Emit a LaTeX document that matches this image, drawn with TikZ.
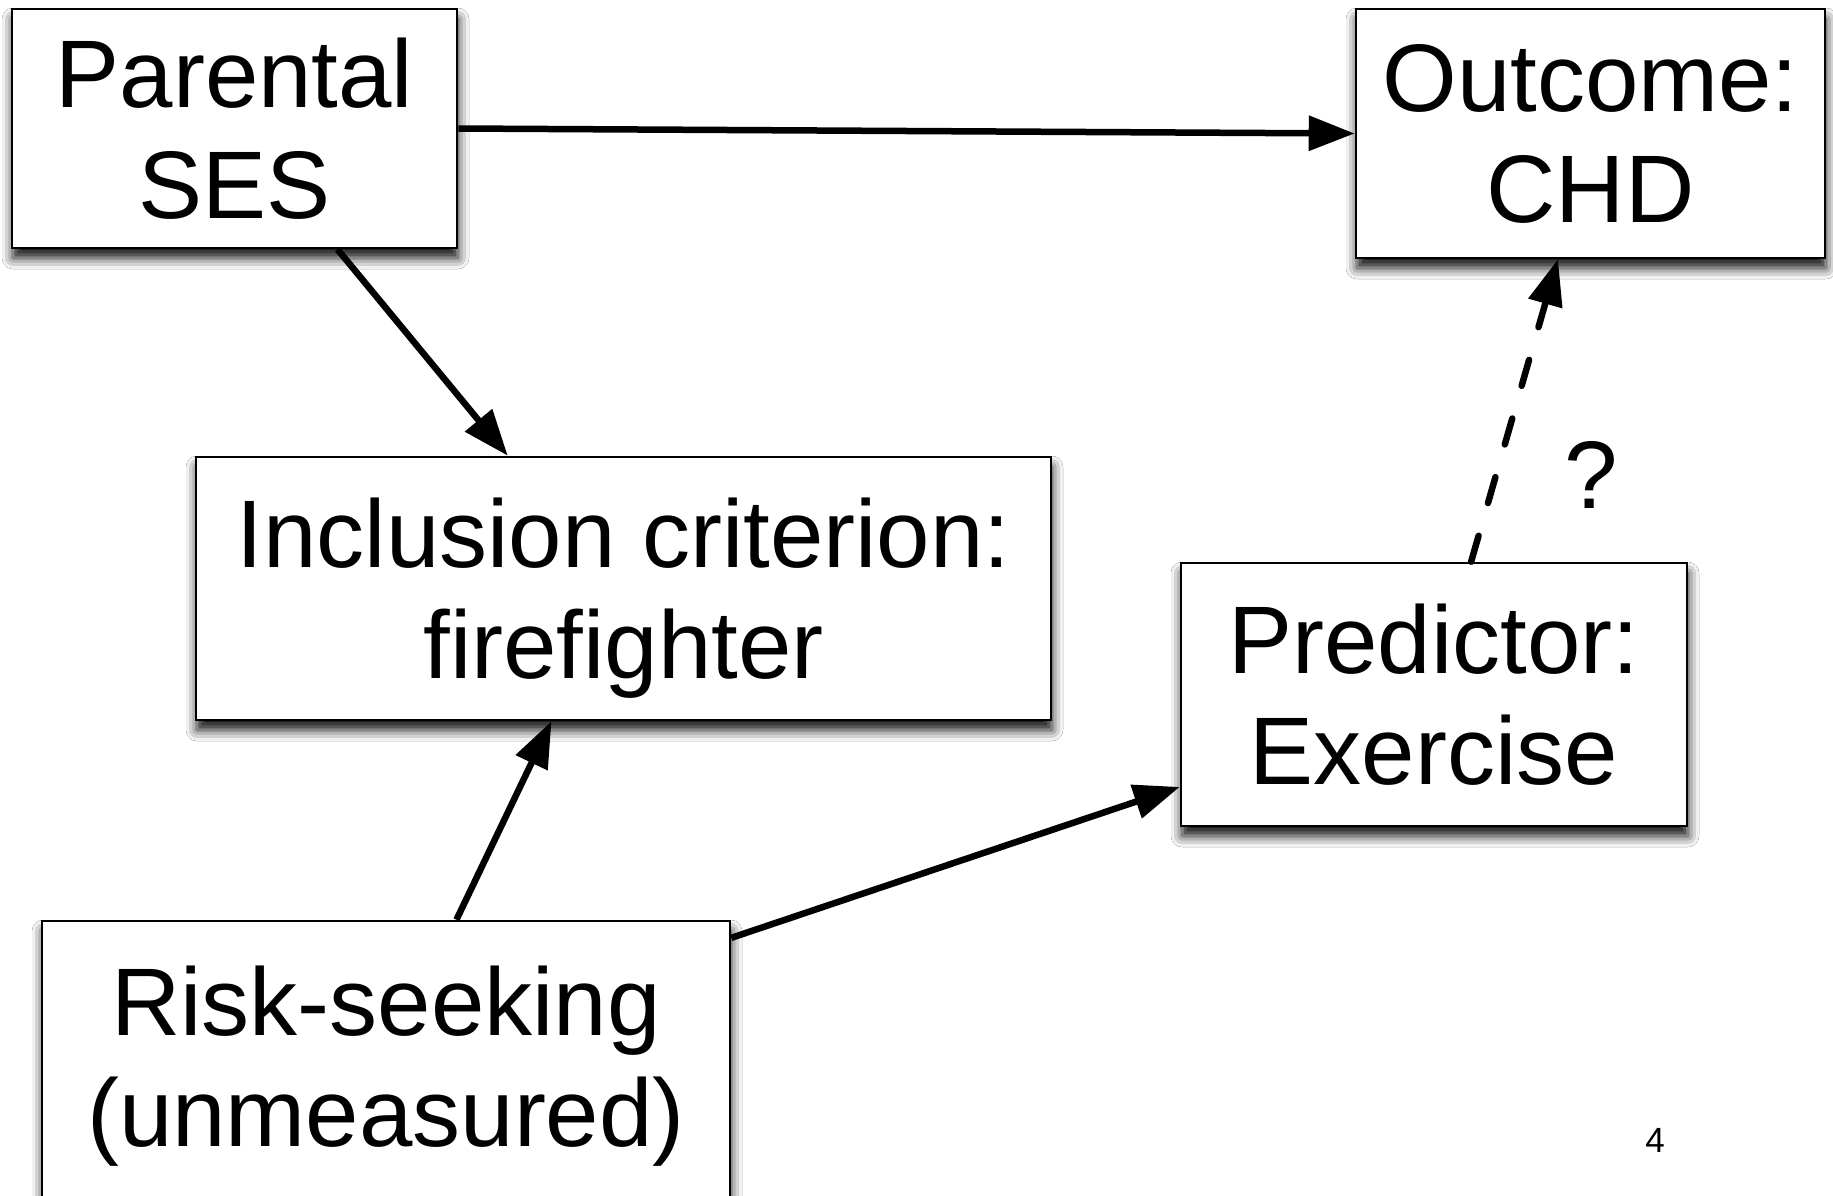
\documentclass[tikz,border=0pt]{standalone}
\usepackage{fontspec}
\setmainfont{Liberation Sans}
\usetikzlibrary{arrows.meta,calc,shadows.blur}
\begin{document}
\begin{tikzpicture}[x=1pt,y=-1pt,
  box/.style={draw=black,line width=2.6pt,fill=white,rectangle,inner sep=0pt,align=center,
    font=\fontsize{96}{111}\selectfont,
    blur shadow={shadow xshift=1pt,shadow yshift=-10pt,shadow blur radius=11pt,shadow opacity=95}},
  conn/.style={line width=6.5pt,-{Triangle[length=46pt,width=34pt]}},
  dconn/.style={conn,dash pattern=on 27pt off 34pt,line cap=round},
  lbl/.style={inner sep=0pt,font=\fontsize{96}{111}\selectfont},
  pagenum/.style={inner sep=0pt,font=\fontsize{35}{40}\selectfont}
  ]
\useasboundingbox (0,0) rectangle (1833,1196);
\fill[white] (0,0) rectangle (1833,1196);

\node[box,minimum width=445pt,minimum height=239pt] (par) at (234.5,128.5) {Parental\\SES};
\node[box,minimum width=469pt,minimum height=249pt] (out) at (1590.5,133.5) {Outcome:\\CHD};
\node[box,minimum width=855pt,minimum height=263pt] (inc) at (623.5,588.5) {Inclusion criterion:\\\smash{firefighter}};
\node[box,minimum width=506pt,minimum height=263pt] (pred) at (1434,694.5) {Predictor:\\Exercise};
\node[box,minimum width=688pt,minimum height=290pt] (risk) at (386,1066) {Risk-seeking\\(unmeasured)};

\draw[conn] (par.east) -- (out.west);
\draw[conn] ($(par.south west)!0.73!(par.south east)$) -- ($(inc.north west)!0.365!(inc.north east)$);
\draw[conn] ($(risk.north west)!0.602!(risk.north east)$) -- ($(inc.south west)!0.416!(inc.south east)$);
\draw[conn] ($(risk.north east)!0.062!(risk.south east)$) -- ($(pred.north west)!0.848!(pred.south west)$);
\draw[dconn] ($(pred.north west)!0.573!(pred.north east)$) -- ($(out.south west)!0.431!(out.south east)$);

\node[lbl] (q) at (1591,475) {?};
\node[pagenum] (pg) at (1655,1140) {4};
\end{tikzpicture}
\end{document}
